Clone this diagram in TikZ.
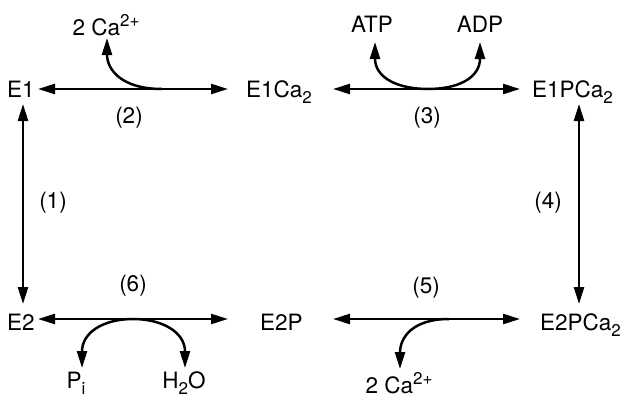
\documentclass[tikz,border=0pt]{standalone}
\usepackage{fontspec}
\setmainfont{TeX Gyre Heros}
\usetikzlibrary{arrows.meta}
\newcommand{\lowsub}[1]{\raisebox{-0.28em}{\fontsize{17}{17}\selectfont #1}}
\newcommand{\highsup}[1]{\raisebox{0.40em}{\fontsize{17}{17}\selectfont #1}}
\begin{document}
\begin{tikzpicture}[x=1pt,y=-1pt,
  font=\fontsize{22.5}{26}\selectfont,
  txt/.style={inner sep=0pt, anchor=base west},
  lbl/.style={inner sep=0pt},
  dbl/.style={line width=2.5pt, {Triangle[length=17pt,width=10pt]}-{Triangle[length=17pt,width=10pt]}},
  cur/.style={line width=2.5pt, -{Triangle[length=17pt,width=10pt]}},
  cur2/.style={line width=2.5pt, {Triangle[length=17pt,width=10pt]}-{Triangle[length=17pt,width=10pt]}}]
\useasboundingbox (0,0) rectangle (623,399);
% species
\node[txt] (E1) at (7,97) {E1};
\node[txt] (E1Ca) at (246,97) {E1Ca\lowsub{2}};
\node[txt] (E1PCa) at (532,97) {E1PCa\lowsub{2}};
\node[txt] (E2) at (7,330) {E2};
\node[txt] (E2P) at (260,330) {E2P};
\node[txt] (E2PCa) at (540,330) {E2PCa\lowsub{2}};
% side species
\node[lbl] (Ca1) at (106,25) {2 Ca\highsup{2+}};
\node[lbl] (ATP) at (372,24) {ATP};
\node[lbl] (ADP) at (480,24) {ADP};
\node[lbl] (Pi) at (76,383) {P\lowsub{i}};
\node[lbl] (H2O) at (184,383) {H\lowsub{2}O};
\node[lbl] (Ca2) at (399,383) {2 Ca\highsup{2+}};
% step labels
\node[lbl] (s1) at (53,203) {(1)};
\node[lbl] (s2) at (129,118) {(2)};
\node[lbl] (s3) at (427,118) {(3)};
\node[lbl] (s4) at (548,203) {(4)};
\node[lbl] (s5) at (426,288) {(5)};
\node[lbl] (s6) at (133,286) {(6)};
% arrow end points
\coordinate (a2l) at (38,89);  \coordinate (a2r) at (228,89);
\coordinate (a3l) at (333,89); \coordinate (a3r) at (520,89);
\coordinate (a6l) at (38,319); \coordinate (a6r) at (228,319);
\coordinate (a5l) at (333,319);\coordinate (a5r) at (520,319);
\coordinate (a1t) at (23,104); \coordinate (a1b) at (23,304);
\coordinate (a4t) at (579,104);\coordinate (a4b) at (579,304);
% main arrows
\draw[dbl] (a2l) -- (a2r);
\draw[dbl] (a3l) -- (a3r);
\draw[dbl] (a6l) -- (a6r);
\draw[dbl] (a5l) -- (a5r);
\draw[dbl] (a1t) -- (a1b);
\draw[dbl] (a4t) -- (a4b);
% curved side arrows
\coordinate (c2a) at (162,89); \coordinate (c2b) at (107,38);
\draw[cur] (c2a) .. controls (122,89) and (107,70) .. (c2b);
\coordinate (c3a) at (375,42); \coordinate (c3m) at (428,89); \coordinate (c3b) at (480,42);
\draw[cur2] (c3a) .. controls (375,78) and (398,89) .. (c3m) .. controls (458,89) and (480,78) .. (c3b);
\coordinate (c6a) at (82,368); \coordinate (c6m) at (133,319); \coordinate (c6b) at (185,368);
\draw[cur2] (c6a) .. controls (82,332) and (104,319) .. (c6m) .. controls (162,319) and (185,332) .. (c6b);
\coordinate (c5a) at (449,319); \coordinate (c5b) at (400,369);
\draw[cur] (c5a) .. controls (412,319) and (400,338) .. (c5b);
\end{tikzpicture}
\end{document}
